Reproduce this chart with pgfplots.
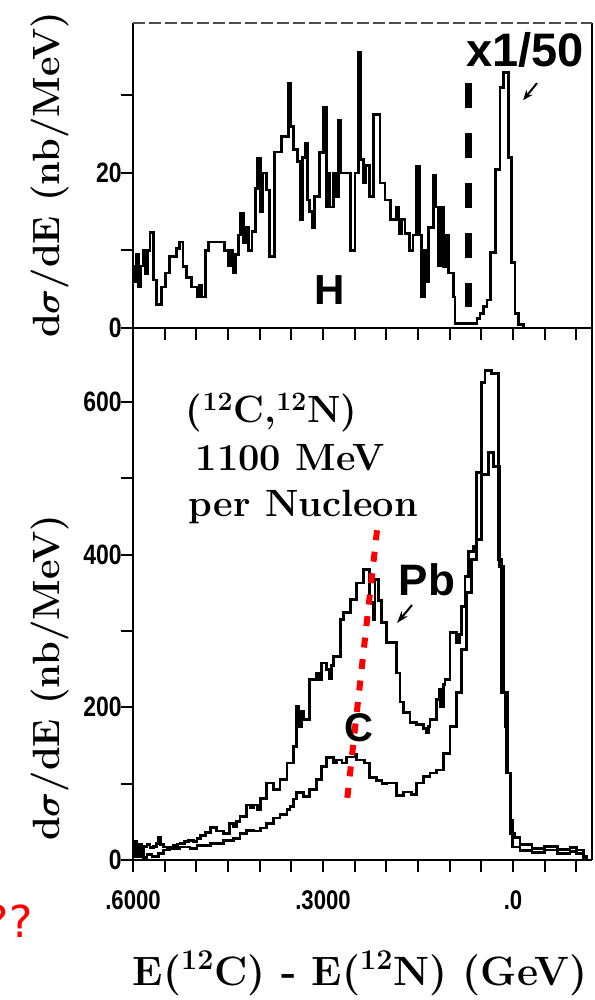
\documentclass[border=0pt]{standalone}
\usepackage{pgfplots}
\pgfplotsset{compat=1.18}
\usepackage{pgfplotstable}
\usepackage{amsmath}
\usepackage{fontspec}
\newfontfamily\lsans{Liberation Sans}
\newfontfamily\djsans{DejaVu Sans}
\usetikzlibrary{arrows.meta}

\pgfplotstableread{
E v
0.600 8
0.597 6
0.594 9.5
0.591 5.3
0.588 8
0.584 10
0.580 7
0.577 10
0.573 12.3
0.568 6.2
0.563 3.0
0.555 5.3
0.549 7.1
0.542 9.2
0.531 10.3
0.526 11.1
0.521 7.9
0.515 6.5
0.507 5.3
0.499 4.0
0.495 5.5
0.491 4.0
0.486 10.0
0.481 11.1
0.455 10.0
0.450 8.0
0.446 10.0
0.442 7.1
0.438 9.5
0.434 12
0.430 14.8
0.426 11
0.423 13
0.418 10
0.412 12.5
0.407 18
0.403 21.9
0.399 15
0.395 20
0.389 17.8
0.384 9.2
0.376 22.7
0.365 24.7
0.355 31.6
0.351 26
0.347 23
0.340 21.5
0.336 14
0.332 22
0.328 23.8
0.325 16.5
0.321 15
0.317 13
0.313 17
0.305 22.6
0.2995 28.5
0.295 15.6
0.292 20
0.289 15.6
0.284 20
0.280 17
0.276 26.8
0.272 20
0.257 10
0.2495 20
0.244 35.5
0.240 21.7
0.236 18.7
0.232 21
0.226 17
0.2205 27.5
0.210 18.7
0.202 16.5
0.194 14
0.184 15.6
0.180 12.2
0.176 14
0.1705 12.2
0.163 10
0.158 12
0.152 20.8
0.148 12
0.144 4
0.140 10
0.137 6
0.134 13
0.126 19.7
0.122 15.6
0.118 8
0.115 15.6
0.110 7.9
0.106 12
0.102 7.1
0.094 4
0.0915 0.6
0.057 1.2
0.052 1.9
0.047 2.8
0.041 3.6
0.036 9.7
0.028 20.4
0.0205 31
0.0153 33
0.0074 22
0.002 8.4
-0.0032 1.9
-0.0084 0.4
-0.0163 0
}\Hdata

\pgfplotstableread{
E v
0.600 15
0.597 25
0.594 12
0.591 20
0.587 10
0.583 18
0.578 20
0.573 16
0.568 18
0.563 22
0.560 29
0.556 20
0.552 17
0.546 15
0.542 17
0.536 19
0.530 21
0.525 22
0.519 24
0.512 26
0.505 24
0.499 28
0.493 32
0.486 36
0.478 43
0.468 38
0.457 35
0.447 48
0.441 44
0.436 50
0.431 57
0.4205 72
0.415 68
0.410 72
0.404 66
0.399 81
0.389 101
0.3785 92
0.368 105
0.357 127
0.347 149
0.3415 201
0.338 175
0.334 195
0.331 184
0.321 236
0.310 244
0.306 236
0.302 258
0.294 250
0.290 238
0.287 255
0.284 267
0.273 315
0.268 324
0.257 341
0.247 363
0.236 381
0.226 337
0.2205 315
0.218 367
0.2126 340
0.2073 311
0.1994 285
0.184 245
0.1784 207
0.1732 193
0.1626 180
0.152 178
0.1416 172
0.137 167
0.134 175
0.131 184
0.1205 210
0.117 223
0.114 201
0.110 230
0.1073 236
0.0995 298
0.0889 285
0.085 295
0.081 332
0.0758 371
0.0705 404
0.0626 411
0.0573 508
0.0494 626
0.0442 641
0.0336 637
0.0231 394
0.0178 219
0.0126 175
0.0099 114
0.0047 35
-0.0032 30
-0.0111 20
-0.030 15
-0.050 18
-0.070 14
-0.090 16
-0.1006 13
-0.1111 5
-0.1164 0
}\Pbdata

\pgfplotstableread{
E v
0.600 5
0.596 12
0.592 4
0.588 8
0.583 3
0.578 7
0.570 5
0.560 9
0.552 13
0.542 15
0.526 17
0.510 15
0.499 19
0.478 22
0.457 26
0.441 28
0.431 35
0.4205 39
0.410 38
0.399 42
0.389 48
0.3785 55
0.368 60
0.357 66
0.352 70
0.347 80
0.3415 88
0.331 83
0.321 92
0.310 105
0.302 122
0.294 134
0.284 128
0.279 131
0.270 127
0.263 135
0.2495 138
0.247 131
0.2345 127
0.226 108
0.215 104
0.207 100
0.1994 101
0.184 85
0.1732 89
0.160 86
0.152 101
0.1416 109
0.131 114
0.1205 118
0.110 140
0.0995 175
0.0889 219
0.081 276
0.0731 350
0.0652 394
0.0573 420
0.0494 505
0.0389 534
0.031 516
0.021 385
0.0155 219
0.0085 114
0.004 52
0.001 17
-0.0111 12
-0.030 10
-0.050 13
-0.070 9
-0.090 11
-0.1006 8
-0.1111 3
-0.1164 0
}\Cdata

\pgfplotsset{
  common/.style={
    scale only axis, width=229.5pt,
    xmin=-0.1247, xmax=0.6, x dir=reverse,
    axis line style={draw=none},
    tick align=outside,
    major tick length=6pt,
    tick style={line width=1pt, black},
    xtick={-0.1,-0.05,0,0.05,0.1,0.15,0.2,0.25,0.3,0.35,0.4,0.45,0.5,0.55,0.6},
    xtick pos=bottom, ytick pos=left,
    yticklabel style={font=\lsans\bfseries\fontsize{14}{14}\selectfont, xscale=0.82, xshift=4pt},
    xticklabel style={font=\lsans\bfseries\fontsize{13.5}{13.5}\selectfont, xscale=0.82, yshift=-6pt},
    clip=false,
  },
  hist/.style={const plot, black, line width=1.4pt, line join=miter, no marks},
}

\begin{document}
\begin{tikzpicture}
\useasboundingbox (-66.5pt,-70pt) rectangle (230.5pt,430pt);

% bottom panel
\begin{axis}[common, at={(0pt,0pt)}, anchor=south west, height=266pt,
  ymin=0, ymax=697,
  ytick={0,100,200,300,400,500,600},
  yticklabels={0,,200,,400,,600},
  xticklabels={,,.0,,,,,,.3000,,,,,,.6000},
]
\addplot[hist] table[x=E,y=v] {\Pbdata};
\addplot[hist] table[x=E,y=v] {\Cdata};
\draw[red, line width=3pt, dash pattern=on 5pt off 5.8pt] (axis cs:0.2147,432) -- (axis cs:0.262,78.6);
\node[font=\bfseries\fontsize{19}{21}\selectfont, anchor=base] at (axis cs:0.381,573) {(\textsuperscript{12}C,\textsuperscript{12}N)};
\node[font=\bfseries\fontsize{19}{21}\selectfont, anchor=base] at (axis cs:0.352,510) {1100 MeV};
\node[font=\bfseries\fontsize{19}{21}\selectfont, anchor=base] at (axis cs:0.331,450) {per Nucleon};
\node[font=\lsans\bfseries\fontsize{22}{22}\selectfont] at (axis cs:0.136,367) {Pb};
\draw[-{Stealth[length=6pt,width=4pt]}, line width=1pt] (axis cs:0.1595,334) -- (axis cs:0.1831,310.5);
\node[font=\lsans\bfseries\fontsize{20}{20}\selectfont] at (axis cs:0.243,173) {C};
\end{axis}

% top panel
\begin{axis}[common, at={(0pt,266pt)}, anchor=south west, height=152.5pt,
  ymin=0, ymax=39.35,
  ytick={0,10,20,30},
  yticklabels={0,,20,},
  xticklabels={},
]
\addplot[hist] table[x=E,y=v] {\Hdata};
\draw[black, line width=3.5pt, dash pattern=on 12.5pt off 12.5pt] (axis cs:0.071,31.6) -- (axis cs:0.071,2.7);
\node[font=\lsans\bfseries\fontsize{23.5}{23.5}\selectfont] at (axis cs:-0.019,35.9) {x1/50};
\draw[-{Stealth[length=5pt,width=4pt]}, line width=1pt] (axis cs:-0.038,31.6) -- (axis cs:-0.016,29.4);
\node[font=\lsans\bfseries\fontsize{21}{21}\selectfont] at (axis cs:0.289,4.9) {H};
\end{axis}

% frame lines
\draw[line width=1.3pt] (0,0) -- (229.5pt,0);
\draw[line width=1.3pt] (0,266pt) -- (229.5pt,266pt);
\draw[line width=1.3pt] (0,0) -- (0,418.5pt);
\draw[line width=0.6pt] (229.5pt,0) -- (229.5pt,418.5pt);
\draw[line width=0.8pt, black!70, dash pattern=on 6pt off 2pt] (0,418.5pt) -- (229.5pt,418.5pt);

% axis labels
\node[font=\bfseries\fontsize{19}{19}\selectfont, rotate=90, anchor=base] at (-37pt,342.5pt) {d$\boldsymbol{\sigma}$/dE (nb/MeV)};
\node[font=\bfseries\fontsize{19}{19}\selectfont, rotate=90, anchor=base] at (-37pt,91pt) {d$\boldsymbol{\sigma}$/dE (nb/MeV)};
\node[font=\bfseries\fontsize{20.5}{20.5}\selectfont, anchor=base] at (113.5pt,-62.5pt) {E(\textsuperscript{12}C) - E(\textsuperscript{12}N) (GeV)};
\node[font=\djsans\fontsize{22}{22}\selectfont, text=red, anchor=base east, inner sep=0pt] at (-50pt,-38.5pt) {??};
\end{tikzpicture}
\end{document}
